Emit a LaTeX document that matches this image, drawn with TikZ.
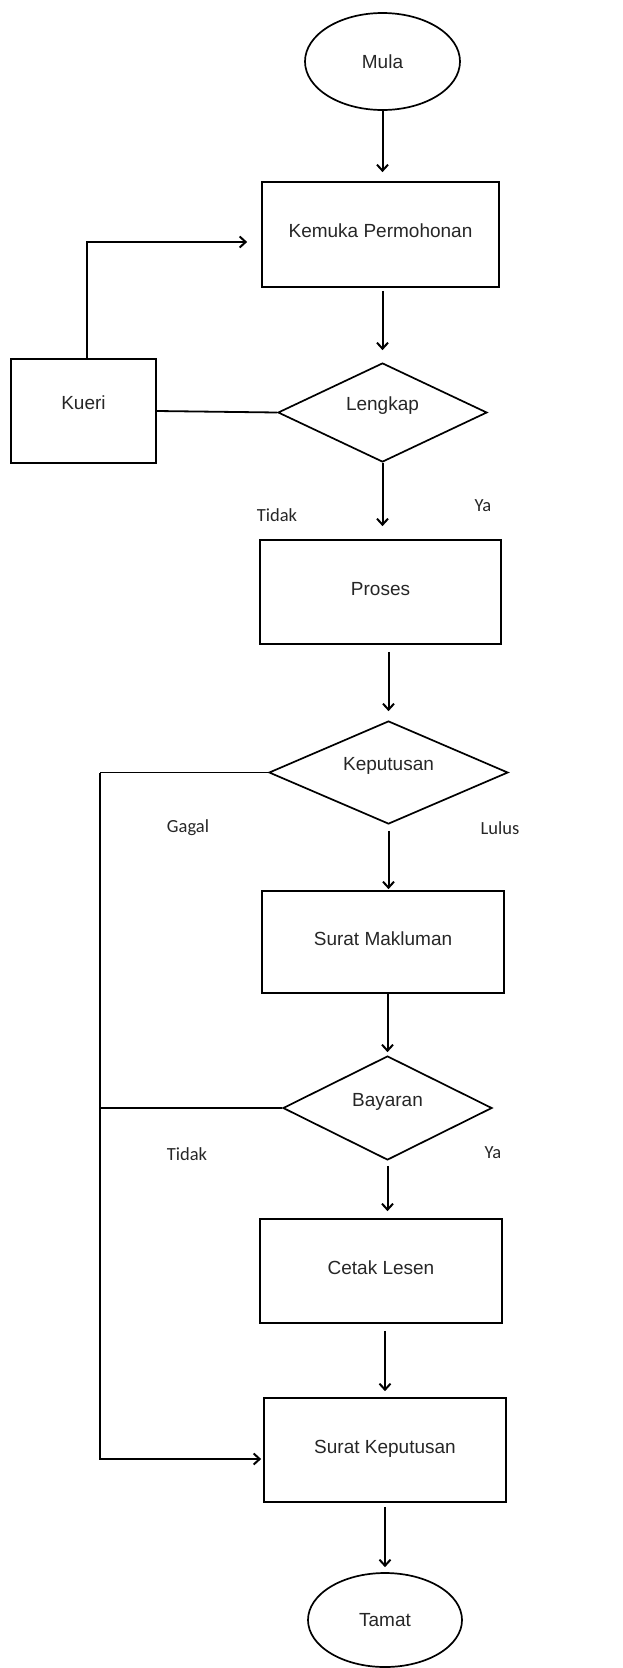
\documentclass[tikz,border=0pt]{standalone}
\usepackage{fontspec}
\setmainfont{Liberation Sans}
\newfontfamily\lblfont{Carlito}
\usetikzlibrary{shapes.geometric,arrows.meta,calc}
\begin{document}
\begin{tikzpicture}[x=1pt,y=-1pt,
  base/.style={draw=black, line width=1.7pt, inner sep=0pt, font=\fontsize{19}{22}\selectfont, text=black!85},
  procbox/.style={base, rectangle, text height=13pt, text depth=7pt},
  decision/.style={base, diamond, shape aspect=2, text height=12pt, text depth=16pt},
  terminal/.style={base, ellipse},
  lbl/.style={inner sep=0pt, font=\lblfont\fontsize{18.5}{22}\selectfont, text=black!85},
  arr/.style={line width=2pt, -{Straight Barb[length=6pt,width=11pt,line width=2pt]}},
  ln/.style={line width=1.8pt}
]
\useasboundingbox (0,0) rectangle (623,1668);

\node[terminal, minimum width=155pt, minimum height=97pt] (mula) at (382.5,61.5) {Mula};
\node[procbox, minimum width=237pt, minimum height=105pt] (kemuka) at (380.5,234.5) {Kemuka Permohonan};
\node[decision, minimum width=209pt, minimum height=99pt] (lengkap) at (382.5,412.5) {Lengkap};
\node[procbox, minimum width=145pt, minimum height=104pt, text height=12pt, text depth=16pt] (kueri) at (83.5,411) {Kueri};
\node[procbox, minimum width=241pt, minimum height=104pt] (proses) at (380.5,592) {Proses};
\node[decision, minimum width=239pt, minimum height=103pt] (keputusan) at (388.5,772.5) {Keputusan};
\node[procbox, minimum width=242pt, minimum height=102pt] (makluman) at (383,942) {Surat Makluman};
\node[decision, minimum width=209pt, minimum height=104pt] (bayaran) at (387.5,1108) {Bayaran};
\node[procbox, minimum width=242pt, minimum height=104pt] (cetak) at (381,1271) {Cetak Lesen};
\node[procbox, minimum width=242pt, minimum height=104pt] (skep) at (385,1450) {Surat Keputusan};
\node[terminal, minimum width=154pt, minimum height=94pt] (tamat) at (385,1620) {Tamat};

\node[lbl] (tidak1) at (277,515) {Tidak};
\node[lbl] (ya1) at (483,506) {Ya};
\node[lbl] (gagal) at (188,828) {Gagal};
\node[lbl] (lulus) at (500,828) {Lulus};
\node[lbl] (tidak2) at (187,1154) {Tidak};
\node[lbl] (ya2) at (493,1153) {Ya};

\coordinate (trunk) at (100,772.5);

% main flow
\draw[arr, shorten >=9pt] (mula.south) -- (mula.south |- kemuka.north);
\draw[arr, shorten <=3pt, shorten >=12pt] (lengkap.north |- kemuka.south) -- (lengkap.north);
\draw[arr, shorten >=13pt] (lengkap.south) -- (lengkap.south |- proses.north);
\draw[arr, shorten <=7pt, shorten >=9pt] (keputusan.north |- proses.south) -- (keputusan.north);
\draw[arr, shorten <=6pt, shorten >=1pt] (keputusan.south) -- (keputusan.south |- makluman.north);
\draw[arr, shorten >=3pt] (bayaran.north |- makluman.south) -- (bayaran.north);
\draw[arr, shorten <=5pt, shorten >=7pt] (bayaran.south) -- (bayaran.south |- cetak.north);
\draw[arr, shorten <=7pt, shorten >=6pt] (skep.north |- cetak.south) -- (skep.north);
\draw[arr, shorten <=4pt, shorten >=5pt] (tamat.north |- skep.south) -- (tamat.north);

% Kueri loop
\draw[ln] (kueri.east) -- (lengkap.west);
\draw[arr] ([xshift=3.5pt]kueri.north) |- ($(kemuka.west)+(-14,7.5)$);

% failure trunk
\draw[ln] (keputusan.west) -- (trunk);
\draw[ln] (bayaran.west) -- (bayaran.west -| trunk);
\draw[arr] (trunk) |- ($(skep.west)+(-2,9)$);
\end{tikzpicture}
\end{document}
